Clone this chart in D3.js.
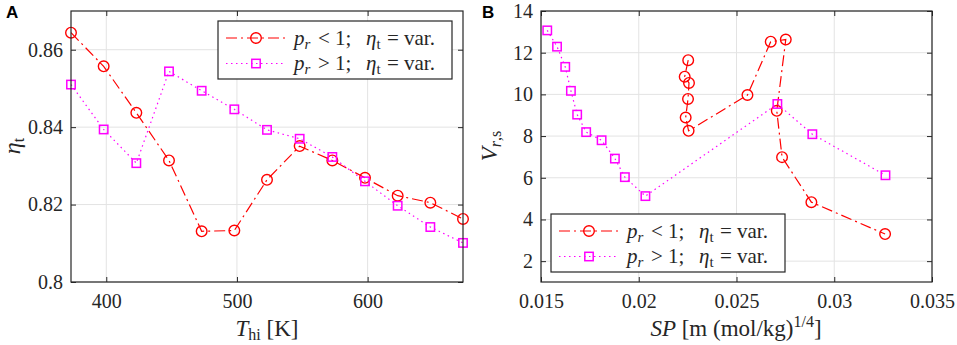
<html>
<head>
<script src="https://d3js.org/d3.v7.min.js"></script>
<style>
  body { margin: 0; background: white; }
  text { font-family: "Liberation Serif", "DejaVu Serif", serif; fill: #262626; }
  .tick text { font-size: 20px; fill: #262626; }
  .grid line { stroke: #e3e3e3; stroke-width: 1; }
  .frame { fill: none; stroke: #262626; stroke-width: 1.2; }
  .axis path { display: none; }
  .axis line { stroke: #262626; stroke-width: 1; }
  .panel { font-family: "Liberation Sans", Arial, sans-serif; font-weight: bold; font-size: 17px; fill: black; }
</style>
</head>
<body>
<svg id="fig" width="957" height="345"></svg>
<script>
// panel A: turbine efficiency vs hot temperature
const tHi = [373, 398, 423, 448, 473, 498, 523, 548, 573, 598, 623, 648, 673];
const etaLow = [0.8644, 0.8557, 0.8437, 0.8314, 0.8131, 0.8133, 0.8264, 0.8351, 0.8314, 0.8269, 0.8223, 0.8205, 0.8163];
const etaHigh = [0.8510, 0.8394, 0.8307, 0.8544, 0.8494, 0.8446, 0.8393, 0.8370, 0.8323, 0.8260, 0.8197, 0.8142, 0.8101];

// panel B: size parameter vs volume ratio
const spLow = [0.02253, 0.02235, 0.02257, 0.02252, 0.02240, 0.02255, 0.02556, 0.02675, 0.02752, 0.02706, 0.02733, 0.02883, 0.03260];
const vLow = [11.64, 10.85, 10.55, 9.78, 8.89, 8.25, 9.97, 12.53, 12.63, 9.21, 6.99, 4.83, 3.30];
const spHigh = [0.01532, 0.01582, 0.01624, 0.01653, 0.01685, 0.01731, 0.01810, 0.01878, 0.01929, 0.02034, 0.02709, 0.02888, 0.03262];
const vHigh = [13.07, 12.29, 11.32, 10.17, 9.03, 8.19, 7.80, 6.92, 6.03, 5.12, 9.54, 8.09, 6.12];

const ticksAx = [400, 500, 600];
const ticksAy = [0.8, 0.82, 0.84, 0.86];
const ticksBx = [0.015, 0.02, 0.025, 0.03, 0.035];
const ticksBy = [2, 4, 6, 8, 10, 12, 14];

const RED = "#ff0000", MAG = "#ff00ff";
const DASHDOT = "11,4,2,4", DOTTED = "1.5,3.5";
const FONT = "Liberation Serif";

const svg = d3.select("#fig");

function panel(cfg) {
  const g = svg.append("g");
  const x = d3.scaleLinear().domain(cfg.xdom).range([cfg.left, cfg.right]);
  const y = d3.scaleLinear().domain(cfg.ydom).range([cfg.bottom, cfg.top]);
  const h = cfg.bottom - cfg.top, w = cfg.right - cfg.left;

  // grid
  g.append("g").attr("class", "grid")
    .selectAll("line").data(cfg.xt).enter().append("line")
    .attr("x1", d => x(d)).attr("x2", d => x(d))
    .attr("y1", cfg.top).attr("y2", cfg.bottom);
  g.append("g").attr("class", "grid")
    .selectAll("line").data(cfg.yt).enter().append("line")
    .attr("y1", d => y(d)).attr("y2", d => y(d))
    .attr("x1", cfg.left).attr("x2", cfg.right);

  // inside ticks on all four sides
  const axes = [
    g.append("g").attr("transform", "translate(0," + cfg.bottom + ")")
      .call(d3.axisBottom(x).tickValues(cfg.xt).tickSizeInner(-5).tickSizeOuter(0).tickPadding(12).tickFormat(d => String(d))),
    g.append("g").attr("transform", "translate(0," + cfg.top + ")")
      .call(d3.axisTop(x).tickValues(cfg.xt).tickSizeInner(-5).tickSizeOuter(0).tickFormat("")),
    g.append("g").attr("transform", "translate(" + cfg.left + ",0)")
      .call(d3.axisLeft(y).tickValues(cfg.yt).tickSizeInner(-5).tickSizeOuter(0).tickPadding(8).tickFormat(d => String(d))),
    g.append("g").attr("transform", "translate(" + cfg.right + ",0)")
      .call(d3.axisRight(y).tickValues(cfg.yt).tickSizeInner(-5).tickSizeOuter(0).tickFormat(""))
  ];
  axes.forEach(a => a.attr("class", "axis").attr("font-family", FONT).attr("font-size", 20));

  // series
  cfg.series.forEach(s => {
    const pts = s.xs.map((v, i) => [x(v), y(s.ys[i])]);
    g.append("path")
      .attr("d", d3.line()(pts))
      .attr("fill", "none")
      .attr("stroke", s.color)
      .attr("stroke-width", 1.2)
      .attr("stroke-dasharray", s.dash);
    drawMarkers(g, pts, s);
  });

  g.append("rect").attr("class", "frame")
    .attr("x", cfg.left).attr("y", cfg.top).attr("width", w).attr("height", h);

  // legend
  const lg = g.append("g").attr("transform", "translate(" + cfg.leg[0] + "," + cfg.leg[1] + ")");
  lg.append("rect").attr("width", 234).attr("height", 58)
    .attr("fill", "white").attr("stroke", "#262626").attr("stroke-width", 1.2);
  cfg.series.forEach((s, i) => {
    const yy = 17 + i * 25.5;
    const by = yy + 6.5;
    lg.append("line").attr("x1", 8).attr("x2", 68).attr("y1", yy).attr("y2", yy)
      .attr("stroke", s.color).attr("stroke-width", 1.2).attr("stroke-dasharray", s.dash);
    drawMarkers(lg, [[38, yy]], s);
    const t = lg.append("text").attr("y", by).attr("font-size", 21);
    t.append("tspan").attr("x", 76).attr("font-style", "italic").text("p");
    t.append("tspan").attr("font-style", "italic").attr("font-size", 15).attr("dy", 4).text("r");
    t.append("tspan").attr("x", 100).attr("y", by).text(s.sign);
    t.append("tspan").attr("x", 117).text("1;");
    t.append("tspan").attr("x", 148).attr("font-style", "italic").text("\u03b7");
    t.append("tspan").attr("font-size", 15).attr("dy", 4).text("t");
    t.append("tspan").attr("x", 169).attr("y", by).text("=");
    t.append("tspan").attr("x", 186).text("var.");
  });

  return g;
}

function drawMarkers(sel, pts, s) {
  if (s.marker === "circle") {
    sel.selectAll(null).data(pts).enter().append("circle")
      .attr("cx", d => d[0]).attr("cy", d => d[1]).attr("r", 5.3)
      .attr("fill", "none").attr("stroke", s.color).attr("stroke-width", 1.4);
  } else {
    sel.selectAll(null).data(pts).enter().append("rect")
      .attr("x", d => d[0] - 4.2).attr("y", d => d[1] - 4.2)
      .attr("width", 8.4).attr("height", 8.4)
      .attr("fill", "none").attr("stroke", s.color).attr("stroke-width", 1.5);
  }
}

// panel A
panel({
  left: 71, right: 463, top: 11, bottom: 282,
  xdom: [373, 673], ydom: [0.8, 0.87],
  xt: ticksAx, yt: ticksAy,
  leg: [218, 21],
  series: [
    { xs: tHi, ys: etaLow, color: RED, dash: DASHDOT, marker: "circle", sign: "<" },
    { xs: tHi, ys: etaHigh, color: MAG, dash: DOTTED, marker: "square", sign: ">" }
  ]
});

// panel B
panel({
  left: 541, right: 932, top: 11, bottom: 282,
  xdom: [0.015, 0.035], ydom: [1, 14],
  xt: ticksBx, yt: ticksBy,
  leg: [551, 214],
  series: [
    { xs: spLow, ys: vLow, color: RED, dash: DASHDOT, marker: "circle", sign: "<" },
    { xs: spHigh, ys: vHigh, color: MAG, dash: DOTTED, marker: "square", sign: ">" }
  ]
});

// axis labels
const xa = svg.append("text").attr("x", 267).attr("y", 336).attr("text-anchor", "middle").attr("font-size", 23);
xa.append("tspan").attr("font-style", "italic").text("T");
xa.append("tspan").attr("font-size", 16).attr("dy", 4).text("hi");
xa.append("tspan").attr("dy", -4).text(" [K]");

const ya = svg.append("text").attr("transform", "translate(20,146) rotate(-90)").attr("text-anchor", "middle").attr("font-size", 24);
ya.append("tspan").attr("font-style", "italic").text("\u03b7");
ya.append("tspan").attr("font-size", 16).attr("dy", 4).text("t");

const xb = svg.append("text").attr("x", 736).attr("y", 336).attr("text-anchor", "middle").attr("font-size", 23);
xb.append("tspan").attr("font-style", "italic").text("SP");
xb.append("tspan").text(" [m (mol/kg)");
xb.append("tspan").attr("font-size", 16).attr("dy", -9).text("1/4");
xb.append("tspan").attr("dy", 9).text("]");

const yb = svg.append("text").attr("transform", "translate(497,146) rotate(-90)").attr("text-anchor", "middle").attr("font-size", 23);
yb.append("tspan").attr("font-style", "italic").text("V");
yb.append("tspan").attr("font-size", 16).attr("dy", 4).attr("font-style", "italic").text("r");
yb.append("tspan").attr("font-size", 16).text(",s");

svg.append("text").attr("class", "panel").attr("x", 6).attr("y", 18).text("A");
svg.append("text").attr("class", "panel").attr("x", 482).attr("y", 18).text("B");
</script>
</body>
</html>
